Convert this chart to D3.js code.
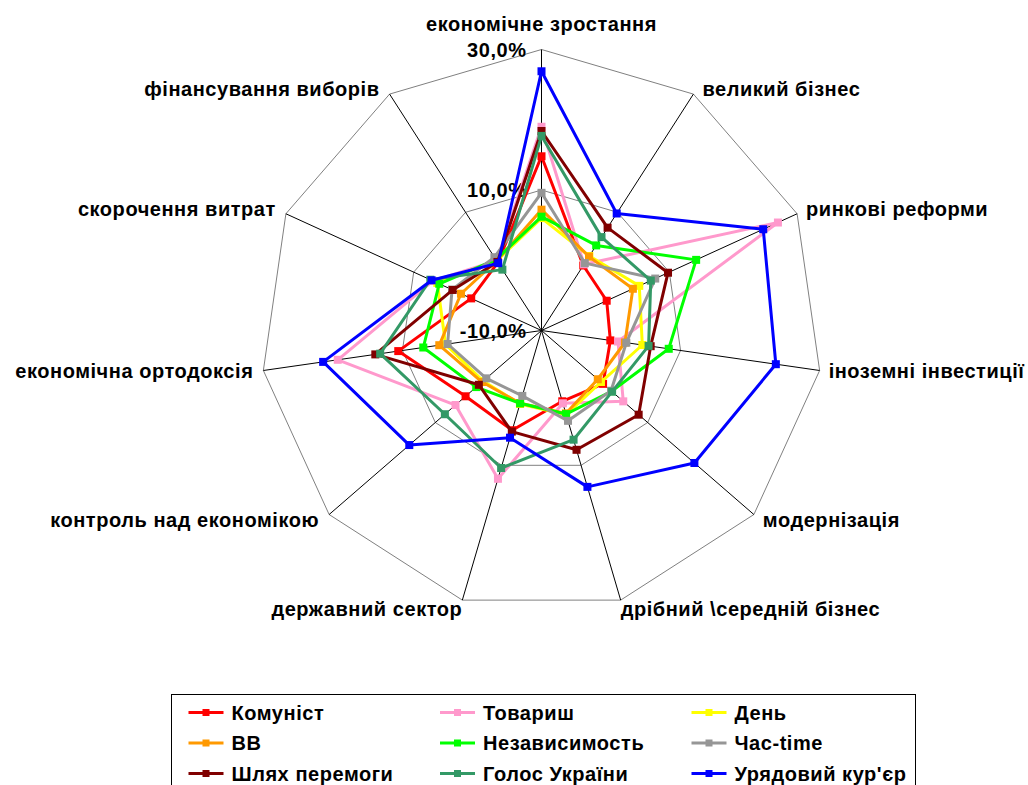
<!DOCTYPE html>
<html>
<head>
<meta charset="utf-8">
<script src="https://cdn.jsdelivr.net/npm/d3@7"></script>
<style>
    body { margin: 0; background: #fff; }
    text { font-family: "Liberation Sans", Arial, sans-serif; font-weight: bold; letter-spacing: 0.55px; }
</style>
</head>
<body>
<svg id="chart" width="1028" height="785"></svg>
<script>
"use strict"

// Axes, clockwise from the top
const categories = [
    "економічне зростання",
    "великий бізнес",
    "ринкові реформи",
    "іноземні інвестиції",
    "модернізація",
    "дрібний \\середній бізнес",
    "державний сектор",
    "контроль над економікою",
    "економічна ортодоксія",
    "скорочення витрат",
    "фінансування виборів"
]

const seriesNames = ["Комуніст", "Товариш", "День", "ВВ", "Независимость", "Час-time", "Шлях перемоги", "Голос України", "Урядовий кур'єр"]

// values in %, one per axis
const komunist     = [14.8, 1.0, 0.2, -0.1, 1.6, 0.5, 4.8, 4.3, 10.6, 1.0, 1.5]
const tovarysh     = [19.0, 1.2, 27.0, 1.0, 5.4, 0.8, 12.0, 6.2, 19.3, 7.0, 1.8]
const den          = [6.0, 2.6, 5.3, 4.5, 1.2, 2.5, 0.9, 1.0, 3.8, 6.3, 1.8]
const vv           = [7.2, 2.5, 4.3, 2.0, 0.6, 2.3, 0.8, 1.2, 4.7, 2.6, 1.8]
const nezavisimost = [6.2, 4.4, 14.2, 8.3, 3.2, 2.4, 0.8, 2.3, 7.0, 6.0, 2.0]
const chastime     = [9.6, 1.4, 7.8, 2.2, 3.1, 3.4, -0.3, 0.4, 3.5, 4.0, 2.4]
const shlyakh      = [18.4, 7.4, 9.8, 5.7, 8.3, 7.7, 5.0, 1.8, 13.9, 3.9, 1.6]
const holos        = [17.7, 5.8, 7.1, 5.4, 3.3, 6.2, 10.4, 8.2, 13.2, 7.4, 0.3]
const uryadovyi    = [26.9, 9.8, 24.7, 23.7, 18.8, 13.2, 5.9, 14.9, 21.4, 7.2, 1.4]

const tickValues = [-10, 10, 30]

const seriesValues = [komunist, tovarysh, den, vv, nezavisimost, chastime, shlyakh, holos, uryadovyi]
const seriesColors = ["#FF0000", "#FF99CC", "#FFFF00", "#FF9900", "#00FF00", "#969696", "#800000", "#339966", "#0000FF"]

function init(){
    const svg = d3.select("#chart")
    const cx = 541.5
    const cy = 330.5
    const R = 281

    const rScale = d3.scaleLinear().domain([-10, 30]).range([0, R])
    const angle = d3.scalePoint().domain(d3.range(categories.length)).range([0, 2 * Math.PI * (1 - 1 / categories.length)])
    const pt = (i, v) => [cx + rScale(v) * Math.sin(angle(i)), cy - rScale(v) * Math.cos(angle(i))]

    const locale = d3.formatLocale({decimal: ",", thousands: " ", grouping: [3], currency: ["", ""], minus: "-"})
    const fmt = v => locale.format(".1f")(v) + "%"

    // grid rings
    svg.selectAll(".ring")
        .data(tickValues.filter(t => t > -10))
        .enter()
        .append("polygon")
        .attr("class", "ring")
        .attr("points", t => categories.map((c, i) => pt(i, t).join(",")).join(" "))
        .attr("fill", "none")
        .attr("stroke", "#808080")
        .attr("stroke-width", 1)

    // spokes
    svg.selectAll(".spoke")
        .data(categories)
        .enter()
        .append("line")
        .attr("class", "spoke")
        .attr("x1", cx)
        .attr("y1", cy)
        .attr("x2", (c, i) => pt(i, 30)[0])
        .attr("y2", (c, i) => pt(i, 30)[1])
        .attr("stroke", "#000")
        .attr("stroke-width", 1)

    // tick labels
    svg.selectAll(".tick")
        .data(tickValues)
        .enter()
        .append("text")
        .attr("class", "tick")
        .attr("x", cx - 15)
        .attr("y", t => cy - rScale(t))
        .attr("dy", "0.35em")
        .attr("text-anchor", "end")
        .attr("font-size", 20)
        .text(fmt)

    // axis labels
    svg.selectAll(".cat")
        .data(categories)
        .enter()
        .append("text")
        .attr("class", "cat")
        .attr("font-size", 20)
        .attr("dy", "0.35em")
        .attr("text-anchor", (c, i) => {
            const s = Math.sin(angle(i))
            if(i === 0) return "middle"
            return s > 0 ? "start" : "end"
        })
        .attr("x", (c, i) => {
            const p = pt(i, 30)
            const s = Math.sin(angle(i))
            if(i === 0) return p[0]
            if(Math.abs(s) < 0.5) return p[0]
            return p[0] + (s > 0 ? 9 : -10)
        })
        .attr("y", (c, i) => {
            const p = pt(i, 30)
            const co = Math.cos(angle(i))
            if(i === 0) return 24
            if(co > 0.3) return p[1] - 5
            if(co > -0.3) return p[1] + 1
            if(co > -0.8) return p[1] + 5
            return p[1] + 9
        })
        .text(c => c)

    // series
    const line = d3.line()
    seriesValues.forEach((vals, s) => {
        const pts = vals.map((v, i) => pt(i, v))
        svg.append("path")
            .attr("d", line(pts) + "Z")
            .attr("fill", "none")
            .attr("stroke", seriesColors[s])
            .attr("stroke-width", 3)
            .attr("stroke-linejoin", "round")
        svg.append("g")
            .selectAll("rect")
            .data(pts)
            .enter()
            .append("rect")
            .attr("x", p => p[0] - 4)
            .attr("y", p => p[1] - 4)
            .attr("width", 8)
            .attr("height", 8)
            .attr("fill", seriesColors[s])
    })

    // legend
    const legend = svg.append("g").attr("transform", "translate(171.5,694.5)")
    legend.append("rect")
        .attr("width", 744)
        .attr("height", 120)
        .attr("fill", "#fff")
        .attr("stroke", "#000")
        .attr("stroke-width", 1)

    const items = legend.selectAll(".item")
        .data(seriesNames)
        .enter()
        .append("g")
        .attr("class", "item")
        .attr("transform", (d, i) => "translate(" + (17 + (i % 3) * 251.5) + "," + (18 + Math.floor(i / 3) * 30.5) + ")")
    items.append("line")
        .attr("x1", 0)
        .attr("x2", 35)
        .attr("stroke", (d, i) => seriesColors[i])
        .attr("stroke-width", 3)
    items.append("rect")
        .attr("x", 14)
        .attr("y", -3.5)
        .attr("width", 7)
        .attr("height", 7)
        .attr("fill", (d, i) => seriesColors[i])
    items.append("text")
        .attr("x", 43)
        .attr("dy", "0.35em")
        .attr("font-size", 20)
        .text(d => d)
}

init()
</script>
</body>
</html>
